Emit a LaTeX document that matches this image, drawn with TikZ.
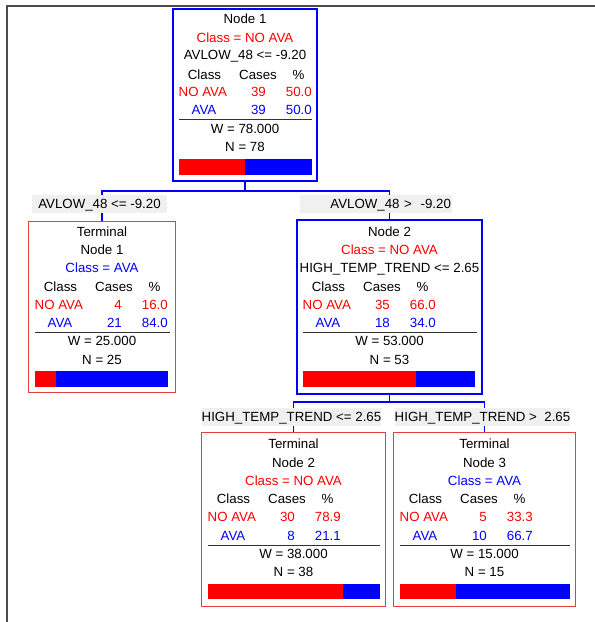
\documentclass[tikz,border=0pt]{standalone}
\usepackage{fontspec}
\setmainfont{Liberation Sans}
\usepackage{tikz}
\definecolor{ablue}{RGB}{0,0,255}
\definecolor{ared}{RGB}{255,0,0}
\definecolor{boxred}{RGB}{235,60,60}
\definecolor{lblgray}{RGB}{240,240,240}

\begin{document}
\begin{tikzpicture}[x=1pt, y=-1pt, every node/.style={font=\fontsize{13.3}{15}\selectfont, inner sep=0pt, text height=9.5pt, text depth=0pt}, blubox/.style={draw=ablue, line width=2pt}, redbox/.style={draw=boxred, line width=1pt}, lbl/.style={fill=lblgray, minimum height=18pt}, conn/.style={draw=ablue, line width=1.5pt}, divline/.style={draw=black!80, line width=1pt}, nr/.style={text=ared}, ab/.style={text=ablue}]
\useasboundingbox (0,0) rectangle (595,622);
\draw[gray!60!black, line width=1.5pt] (7,622) -- (7,6) -- (595,6);
\node[blubox, minimum width=144pt, minimum height=172.5pt] (1) at (245,94.75) {};
\node[redbox, minimum width=147pt, minimum height=171pt] (2) at (102,307) {};
\node[blubox, minimum width=185pt, minimum height=174pt] (3) at (389.5,307) {};
\node[redbox, minimum width=184pt, minimum height=174pt] (4) at (293.5,519.5) {};
\node[redbox, minimum width=182pt, minimum height=174pt] (5) at (484.5,519.5) {};
\coordinate (j1) at (245,191);
\coordinate (j2) at (389.5,402);
\draw[conn] (1.south) -- (j1);
\draw[conn] (j1) -| (2.north);
\draw[conn] (j1) -| (3.north);
\draw[conn] (3.south) -- (j2);
\draw[conn] (j2) -| (4.north);
\draw[conn] (j2) -| (5.north);
\node[lbl, minimum width=135pt] (e1) at (99.5,204) {AVLOW\_48 <= -9.20};
\node[lbl, minimum width=152pt, text width=150pt, align=right] (e2) at (376,204) {AVLOW\_48 >\ \ -9.20};
\node[lbl, minimum width=175pt] (e3) at (291.5,416.5) {HIGH\_TEMP\_TREND <= 2.65};
\node[lbl, minimum width=171pt] (e4) at (482.5,416.5) {HIGH\_TEMP\_TREND >\ \ 2.65};

\node (1a) at (245,18.5) {Node 1};
\node[nr] (1b) at (245,37.5) {Class = NO AVA};
\node (1c) at (245,55) {AVLOW\_48 <= -9.20};
\node (1d) at (204.5,74.5) {Class};
\node (1e) at (258,74.5) {Cases};
\node (1f) at (298.5,74.5) {\%};
\node[nr, anchor=west] (1g) at (178.5,92) {NO AVA};
\node[nr, anchor=east] (1h) at (266,92) {39};
\node[nr, anchor=east] (1i) at (312,92) {50.0};
\node[ab] (1j) at (204,110) {AVA};
\node[ab, anchor=east] (1k) at (266,110) {39};
\node[ab, anchor=east] (1l) at (312,110) {50.0};
\draw[divline] (178.5,119.5) -- (312,119.5);
\node (1m) at (245,128.5) {W = 78.000};
\node (1n) at (245,146.5) {N = 78};
\fill[ared] (178.5,158.5) rectangle (245,174.5);
\fill[ablue] (245,158.5) rectangle (312,174.5);

\node (2a) at (102,232) {Terminal};
\node (2b) at (102,250) {Node 1};
\node[ab] (2c) at (102,268) {Class = AVA};
\node (2d) at (60.5,287) {Class};
\node (2e) at (114,287) {Cases};
\node (2f) at (154.5,287) {\%};
\node[nr, anchor=west] (2g) at (34.5,305) {NO AVA};
\node[nr, anchor=east] (2h) at (122,305) {4};
\node[nr, anchor=east] (2i) at (168,305) {16.0};
\node[ab] (2j) at (60,323) {AVA};
\node[ab, anchor=east] (2k) at (122,323) {21};
\node[ab, anchor=east] (2l) at (168,323) {84.0};
\draw[divline] (34.5,332) -- (170,332);
\node (2m) at (102,341) {W = 25.000};
\node (2n) at (102,360) {N = 25};
\fill[ared] (34.5,371) rectangle (56,387);
\fill[ablue] (56,371) rectangle (168,387);

\node (3a) at (389.5,232) {Node 2};
\node[nr] (3b) at (389.5,250) {Class = NO AVA};
\node (3c) at (389.5,268) {HIGH\_TEMP\_TREND <= 2.65};
\node (3d) at (328.5,287) {Class};
\node (3e) at (382,287) {Cases};
\node (3f) at (422.5,287) {\%};
\node[nr, anchor=west] (3g) at (302.5,305) {NO AVA};
\node[nr, anchor=east] (3h) at (390,305) {35};
\node[nr, anchor=east] (3i) at (436,305) {66.0};
\node[ab] (3j) at (328,323) {AVA};
\node[ab, anchor=east] (3k) at (390,323) {18};
\node[ab, anchor=east] (3l) at (436,323) {34.0};
\draw[divline] (302.5,332) -- (477,332);
\node (3m) at (389.5,341) {W = 53.000};
\node (3n) at (389.5,360) {N = 53};
\fill[ared] (302.5,371) rectangle (416,387);
\fill[ablue] (416,371) rectangle (475,387);

\node (4a) at (293.5,444) {Terminal};
\node (4b) at (293.5,463) {Node 2};
\node[nr] (4c) at (293.5,481) {Class = NO AVA};
\node (4d) at (233.5,499) {Class};
\node (4e) at (287,499) {Cases};
\node (4f) at (327.5,499) {\%};
\node[nr, anchor=west] (4g) at (207.5,517) {NO AVA};
\node[nr, anchor=east] (4h) at (295,517) {30};
\node[nr, anchor=east] (4i) at (341,517) {78.9};
\node[ab] (4j) at (233,536) {AVA};
\node[ab, anchor=east] (4k) at (295,536) {8};
\node[ab, anchor=east] (4l) at (341,536) {21.1};
\draw[divline] (207.5,545) -- (380,545);
\node (4m) at (293.5,554) {W = 38.000};
\node (4n) at (293.5,572) {N = 38};
\fill[ared] (207.5,584) rectangle (343,599);
\fill[ablue] (343,584) rectangle (379.5,599);

\node (5a) at (484.5,444) {Terminal};
\node (5b) at (484.5,463) {Node 3};
\node[ab] (5c) at (484.5,481) {Class = AVA};
\node (5d) at (425.5,499) {Class};
\node (5e) at (479,499) {Cases};
\node (5f) at (519.5,499) {\%};
\node[nr, anchor=west] (5g) at (399.5,517) {NO AVA};
\node[nr, anchor=east] (5h) at (487,517) {5};
\node[nr, anchor=east] (5i) at (533,517) {33.3};
\node[ab] (5j) at (425,536) {AVA};
\node[ab, anchor=east] (5k) at (487,536) {10};
\node[ab, anchor=east] (5l) at (533,536) {66.7};
\draw[divline] (399.5,545) -- (570,545);
\node (5m) at (484.5,554) {W = 15.000};
\node (5n) at (484.5,572) {N = 15};
\fill[ared] (399.5,584) rectangle (456,599);
\fill[ablue] (456,584) rectangle (570,599);
\end{tikzpicture}
\end{document}
